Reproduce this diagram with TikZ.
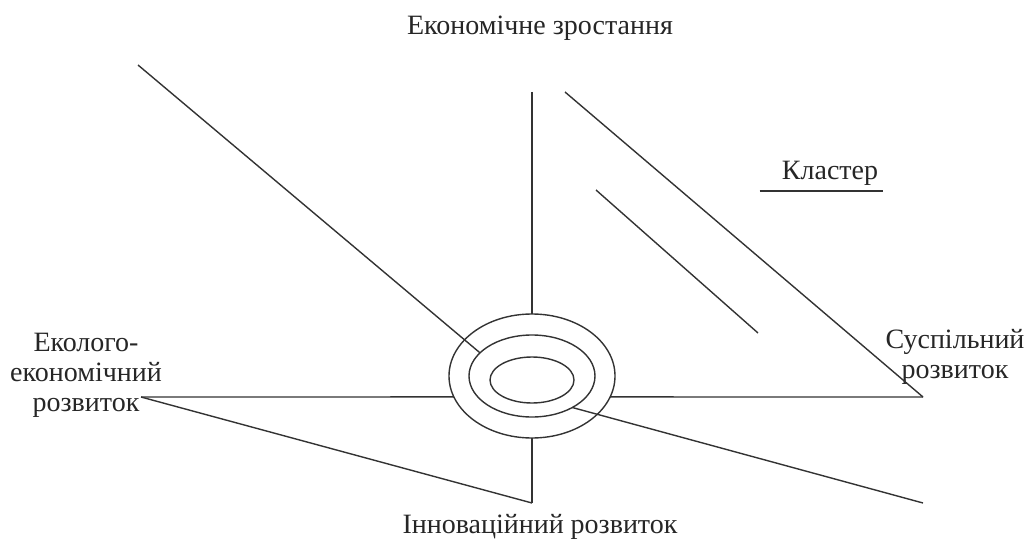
\documentclass[tikz,border=0pt]{standalone}
\usepackage{fontspec}
\setmainfont{Liberation Serif}
\usetikzlibrary{shapes.geometric, calc}
\definecolor{LineGray}{HTML}{333333}

\begin{document}
\begin{tikzpicture}[
        x=1pt, y=-1pt,
        line/.style={draw=LineGray, line width=1.4pt},
        ring/.style={ellipse, draw=LineGray, line width=1.4pt, inner sep=0pt, outer sep=0pt},
        label/.style={font=\fontsize{28}{30}\selectfont, text=black!85, align=center, inner sep=0pt}
      ]
        \useasboundingbox (0,0) rectangle (1027,540);

        \node[ring, minimum width=166pt, minimum height=124pt] (outer) at (532,376) {};
        \node[ring, minimum width=126pt, minimum height=82pt] (mid) at (532,376) {};
        \node[ring, minimum width=84pt, minimum height=46pt] (inner) at (532,380) {};

        \node[label] (grow) at (540,28) {Економічне зростання};
        \node[label] (innov) at (540,527) {Інноваційний розвиток};
        \node[label] (eco) at (86,375) {Еколого-\\економічний\\розвиток};
        \node[label] (soc) at (955,357) {Суспільний\\розвиток};
        \node[label] (klaster) at (830,173) {Кластер};

        \coordinate (ptTop) at (532,92);
        \coordinate (ptBot) at (532,503);
        \coordinate (ptLeft) at (141,397);
        \coordinate (ptRight) at (923,397);
        \coordinate (ptTL) at (138,65);
        \coordinate (ptTR) at (565,92);
        \coordinate (ptBR) at (923,503);
        \coordinate (ptS1) at (596,190);
        \coordinate (ptS2) at (758,333);

        \draw[line] (ptTop) -- (outer.north);
        \draw[line] (outer.south) -- (ptBot);
        \draw[line] (ptLeft) -- (outer.195);
        \draw[line] (ptLeft) -- (ptBot);
        \draw[line] (outer.-15) -- (ptRight);
        \draw[line] (ptTL) -- (mid.156);
        \draw[line] (ptTR) -- (ptRight);
        \draw[line] (ptS1) -- (ptS2);
        \draw[line] (mid.-38) -- (ptBR);
        \draw[line] (klaster.south west |- 0,191) ++(-22,0) -- (883,191);
      \end{tikzpicture}
\end{document}
